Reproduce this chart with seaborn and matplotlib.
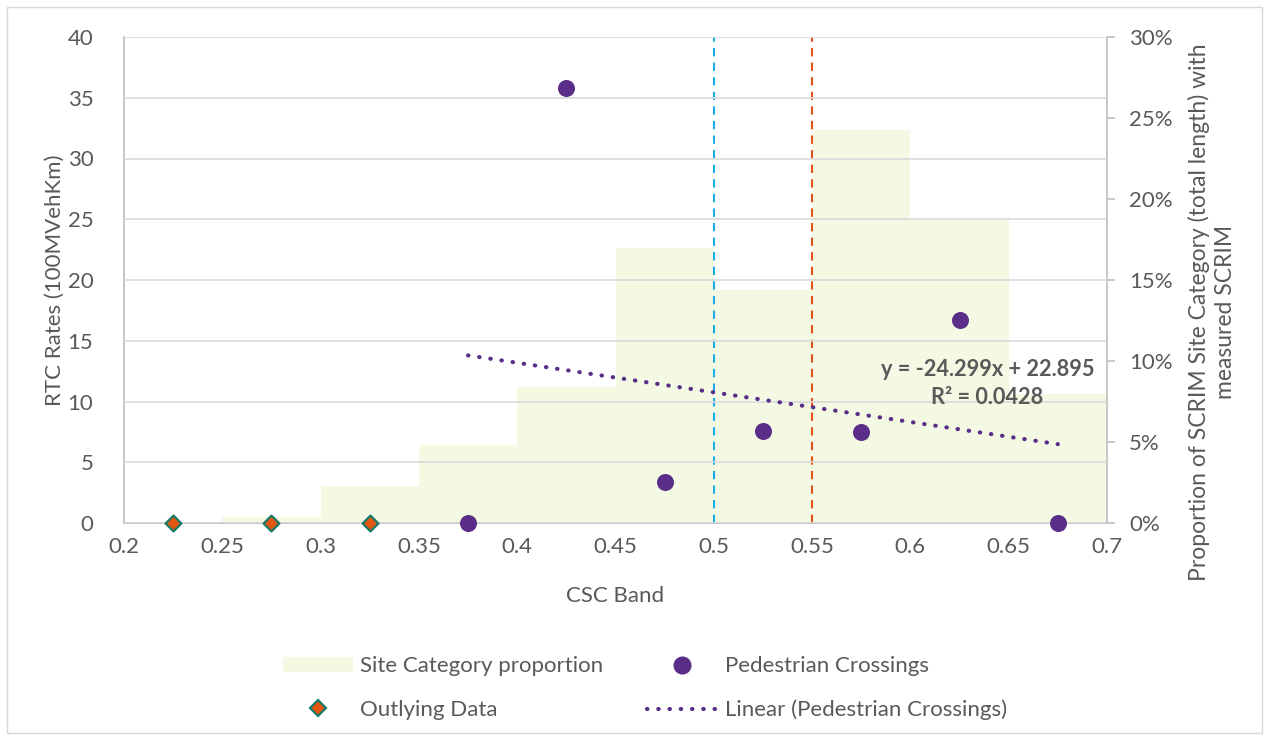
import matplotlib
matplotlib.use("Agg")
import matplotlib.pyplot as plt
import seaborn as sns
import numpy as np
import pandas as pd
from matplotlib.lines import Line2D
from matplotlib.patches import Patch, Rectangle
from matplotlib.ticker import PercentFormatter, MultipleLocator

# ---- data ----
band_left = [0.25, 0.30, 0.35, 0.40, 0.45, 0.50, 0.55, 0.60, 0.65]
site_prop = [0.35, 2.28, 4.81, 8.41, 16.96, 14.4, 24.26, 18.7, 7.94]  # percent

ped_x = [0.375, 0.425, 0.475, 0.525, 0.575, 0.625, 0.675]
ped_y = [0.0, 35.8, 3.4, 7.6, 7.5, 16.7, 0.0]

out_x = [0.225, 0.275, 0.325]
out_y = [0.0, 0.0, 0.0]

x_ticks = [0.2, 0.25, 0.3, 0.35, 0.4, 0.45, 0.5, 0.55, 0.6, 0.65, 0.7]
threshold_lines = [0.50, 0.55]
trend_text = "y = -24.299x + 22.895\nR² = 0.0428"

# ---- style ----
sns.set_theme(style="white")
plt.rcParams['font.family'] = ['Lato', 'DejaVu Sans']
TXT = "#595959"
GRID = "#D9D9D9"
BAR = "#F4F9E3"
PURPLE = "#5A2D88"
ORANGE = "#E2560F"
TEAL = "#1A7A6A"
FS = 16

W, H = 1269, 740
fig = plt.figure(figsize=(W / 100, H / 100), dpi=100)
fig.patches.append(Rectangle((7 / W, 7 / H), 1 - 14 / W, 1 - 14 / H,
                             transform=fig.transFigure, fill=False,
                             edgecolor="#D9D9D9", linewidth=1.0))
ax = fig.add_axes([124 / W, 1 - 523 / H, (1107 - 124) / W, (523 - 37) / H])
ax2 = ax.twinx()

# bars on secondary axis
bar_df = pd.DataFrame({"left": band_left, "prop": site_prop})
ax2.bar(bar_df["left"], bar_df["prop"], width=0.05, align="edge",
        color=BAR, edgecolor="none", linewidth=0)
ax2.set_ylim(0, 30)
ax2.yaxis.set_major_locator(MultipleLocator(5))
ax2.yaxis.set_major_formatter(PercentFormatter(decimals=0))

# primary axis in front so its gridlines draw over the bars
ax.set_zorder(ax2.get_zorder() + 1)
ax.patch.set_visible(False)

ped_df = pd.DataFrame({"x": ped_x, "y": ped_y})
out_df = pd.DataFrame({"x": out_x, "y": out_y})

for xv, c in zip(threshold_lines, ["#1BAEE6", "#E0531A"]):
    ax.axvline(xv, color=c, linestyle=(0, (4, 3)), linewidth=1.5, zorder=2)

sns.regplot(data=ped_df, x="x", y="y", ax=ax, ci=None, scatter=False,
            truncate=True,
            line_kws=dict(color=PURPLE, linestyle=(0, (0.1, 2.6)),
                          linewidth=3, dash_capstyle="round", zorder=3))
sns.scatterplot(data=ped_df, x="x", y="y", ax=ax, s=150, color=PURPLE,
                edgecolor=PURPLE, linewidth=0, zorder=5, clip_on=False)
sns.scatterplot(data=out_df, x="x", y="y", ax=ax, marker="D", s=65,
                color=ORANGE, edgecolor=TEAL, linewidth=1.6, zorder=5,
                clip_on=False)

ax.set_xlim(0.2, 0.7)
ax.set_ylim(0, 40)
ax.yaxis.set_major_locator(MultipleLocator(5))
ax.set_xticks(x_ticks)
ax.set_xticklabels([f"{v:g}" for v in x_ticks])
ax.grid(axis="y", color=GRID, linewidth=1.2, zorder=1)
ax.grid(axis="x", visible=False)
ax.set_axisbelow(False)

for a in (ax, ax2):
    for s in a.spines.values():
        s.set_visible(False)
ax.spines["left"].set_visible(True)
ax.spines["left"].set_color("#BFBFBF")
ax.spines["bottom"].set_visible(True)
ax.spines["bottom"].set_color("#BFBFBF")
ax.spines["bottom"].set_linewidth(1.2)
ax2.spines["right"].set_visible(True)
ax2.spines["right"].set_color("#BFBFBF")
ax2.spines["right"].set_linewidth(1.2)

ax.tick_params(axis="x", labelsize=FS, labelcolor=TXT, length=0, pad=10)
ax.tick_params(axis="y", labelsize=FS, labelcolor=TXT, length=0, pad=22)
ax2.tick_params(axis="y", labelsize=FS, labelcolor=TXT, length=6, width=1.2,
                color="#BFBFBF", direction="out", pad=10)

ax.set_xlabel("CSC Band", fontsize=FS, color=TXT, labelpad=21)
ax.set_ylabel("")
ax2.set_ylabel("")
fig.text(55 / W, 1 - 280 / H, "RTC Rates (100MVehKm)", rotation=90,
         ha="center", va="center", fontsize=FS, color=TXT)
fig.text(1212 / W, 1 - 312 / H,
         "Proportion of SCRIM Site Category (total length) with\nmeasured SCRIM",
         rotation=90, ha="center", va="center", fontsize=FS + 0.5, color=TXT,
         multialignment="center", linespacing=1.25)

ax.text(0.6392, 11.45, trend_text, ha="center", va="center", fontsize=FS - 0.3,
        color=TXT, fontweight="bold", linespacing=1.4, zorder=6)

# legends
h1 = [Patch(facecolor=BAR, edgecolor="none"),
      Line2D([], [], marker="D", linestyle="none", markersize=8,
             markerfacecolor=ORANGE, markeredgecolor=TEAL, markeredgewidth=1.6)]
l1 = ["Site Category proportion", "Outlying Data"]
h2 = [Line2D([], [], marker="o", linestyle="none", markersize=12,
             markerfacecolor=PURPLE, markeredgecolor=PURPLE),
      Line2D([], [], color=PURPLE, linestyle=(0, (0.1, 2.6)), linewidth=3,
             dash_capstyle="round")]
l2 = ["Pedestrian Crossings", "Linear (Pedestrian Crossings)"]

common = dict(frameon=False, fontsize=FS, labelcolor=TXT, handlelength=3.15,
              handleheight=0.6, labelspacing=1.05, borderaxespad=0, borderpad=0,
              loc="center left")
fig.legend(h1, l1, bbox_to_anchor=(283 / W, 1 - 688 / H), handletextpad=0.3,
           **common)
fig.legend(h2, l2, bbox_to_anchor=(647 / W, 1 - 688 / H), handletextpad=0.35,
           **common)

fig.savefig("out.png", dpi=100)
